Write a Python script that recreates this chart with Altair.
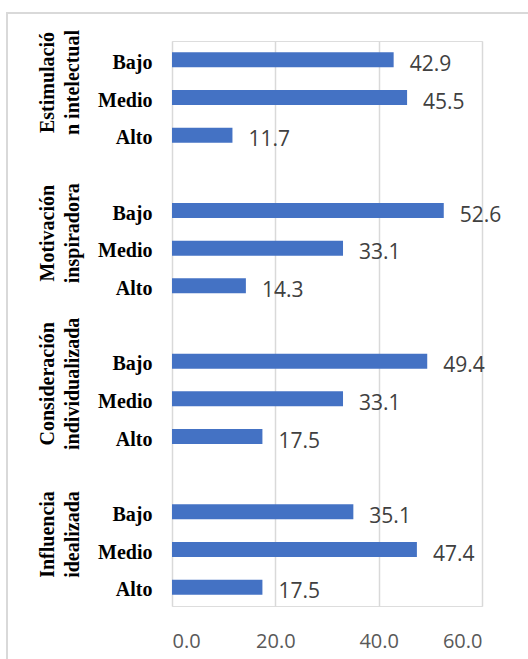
import altair as alt
import pandas as pd

groups = ["Estimulación intelectual", "Motivación inspiradora",
          "Consideración individualizada", "Influencia idealizada"]
group_lines = [["Estimulació", "n intelectual"], ["Motivación", "inspiradora"],
               ["Consideración", "individualizada"], ["Influencia", "idealizada"]]
levels = ["Bajo", "Medio", "Alto"]
values = [[42.9, 45.5, 11.7],
          [52.6, 33.1, 14.3],
          [49.4, 33.1, 17.5],
          [35.1, 47.4, 17.5]]
x_ticks = [0, 20, 40, 60]

rows = []
order = []
for gi, g in enumerate(groups):
    if gi > 0:
        order.append(f"gap{gi}|")
    for li, lv in enumerate(levels):
        key = f"{g}|{lv}"
        order.append(key)
        rows.append({"key": key, "group": g, "level": lv, "value": values[gi][li]})
df = pd.DataFrame(rows)

glab = pd.DataFrame({"key": [f"{g}|Medio" for g in groups],
                     "label": ["\n".join(l) for l in group_lines]})

yscale = alt.Scale(domain=order, paddingInner=0.6, paddingOuter=0.3)

y_enc = alt.Y("key:N", sort=order, scale=yscale,
              axis=alt.Axis(title=None, ticks=False, domain=False, grid=False,
                            labelExpr="split(datum.label, '|')[1]",
                            labelFont="Liberation Serif", labelFontWeight="bold",
                            labelFontSize=20, labelColor="#000000",
                            labelPadding=20, labelOffset=3))

x_enc = alt.X("value:Q", scale=alt.Scale(domain=[0, 60], nice=False),
              axis=alt.Axis(title=None, values=x_ticks, format=".1f",
                            grid=True, gridColor="#d9d9d9", gridWidth=1.5,
                            domain=False, ticks=False,
                            labelFont="Open Sans", labelFontSize=20,
                            labelColor="#595959", labelPadding=25))

bars = alt.Chart(df).mark_bar(color="#4472C4").encode(x=x_enc, y=y_enc)

vals = alt.Chart(df).mark_text(align="left", baseline="middle", dx=16, dy=5,
                               font="Open Sans", fontSize=21,
                               color="#404040").encode(
    x="value:Q", y=alt.Y("key:N", sort=order, scale=yscale),
    text=alt.Text("value:Q", format=".1f"))

glabels = alt.Chart(glab).mark_text(angle=270, align="center", baseline="middle",
                                    lineBreak="\n", lineHeight=25, dx=15,
                                    font="Liberation Serif", fontWeight="bold",
                                    fontSize=20, color="#000000").encode(
    x=alt.value(-124),
    y=alt.Y("key:N", sort=order, scale=yscale),
    text="label:N")

frame = alt.Chart(pd.DataFrame({"a": [0]})).mark_rect(
    fill=None, stroke="#d9d9d9", strokeWidth=2).encode(
    x=alt.value(-165), x2=alt.value(420), y=alt.value(-28), y2=alt.value(700))

chart = alt.layer(frame, bars, vals, glabels).properties(
    width=310, height=565,
    autosize=alt.AutoSizeParams(type="none"),
    padding={"left": 172, "top": 41, "right": 46, "bottom": 53},
).configure_view(stroke=None).configure(background="white")

chart.save("out.html", embed_options={"renderer": "svg", "actions": False})
